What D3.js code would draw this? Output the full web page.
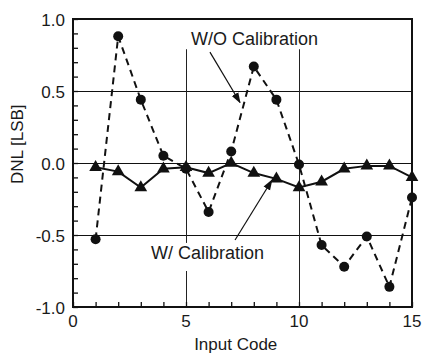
<!DOCTYPE html>
<html>
<head>
<meta charset="utf-8">
<script src="https://cdn.jsdelivr.net/npm/d3@7"></script>
<style>
  body { margin: 0; background: #fff; }
  text { font-family: "Liberation Sans", Arial, sans-serif; fill: #1a1a1a; }
</style>
</head>
<body>
<script>
// DNL vs input code, with and without calibration
var codes = [1, 2, 3, 4, 5, 6, 7, 8, 9, 10, 11, 12, 13, 14, 15];
var dnlWithout = [-0.53, 0.88, 0.44, 0.05, -0.04, -0.34, 0.08, 0.67, 0.44, -0.01, -0.57, -0.72, -0.51, -0.86, -0.24];
var dnlWith = [-0.03, -0.06, -0.17, -0.04, -0.03, -0.07, 0.0, -0.07, -0.11, -0.17, -0.13, -0.04, -0.02, -0.02, -0.1];
var xTicks = [0, 5, 10, 15];
var yTicks = [-1.0, -0.5, 0.0, 0.5, 1.0];
var xGrid = [5, 10];
var yGrid = [-0.5, 0, 0.5];

var margin = {left: 73, right: 13, top: 19, bottom: 48},
    width = 425 - margin.left - margin.right,
    height = 355 - margin.top - margin.bottom;

var svg = d3.select("body")
    .append("svg")
    .attr("width", 425)
    .attr("height", 355)
    .append("g")
    .attr("transform", "translate(" + margin.left + "," + margin.top + ")");

var x = d3.scaleLinear().domain([0, 15]).range([0, width]);
var y = d3.scaleLinear().domain([-1, 1]).range([height, 0]);

// grid lines
svg.selectAll(".hgrid")
    .data(yGrid)
    .enter().append("line")
    .attr("x1", 0).attr("x2", width)
    .attr("y1", function(d) { return Math.round(y(d)) + 0.5; })
    .attr("y2", function(d) { return Math.round(y(d)) + 0.5; })
    .attr("stroke", "#111").attr("stroke-width", 1);

svg.selectAll(".vgrid")
    .data(xGrid)
    .enter().append("line")
    .attr("x1", function(d) { return Math.round(x(d)) + 0.5; })
    .attr("x2", function(d) { return Math.round(x(d)) + 0.5; })
    .attr("y1", 0).attr("y2", height)
    .attr("stroke", "#222").attr("stroke-width", 1);

// white boxes behind the annotation labels (they cut the grid lines)
svg.append("rect")
    .attr("x", x(5) - 6).attr("y", 0)
    .attr("width", x(10) - x(5) + 30).attr("height", y(0.79) - 0)
    .attr("fill", "#fff");
svg.append("rect")
    .attr("x", x(3.4)).attr("y", y(-0.555))
    .attr("width", 120).attr("height", y(-0.75) - y(-0.555))
    .attr("fill", "#fff");

// axes with minor ticks pointing inward
var xAxis = d3.axisBottom(x).tickValues(d3.range(0, 16, 1)).tickSizeInner(-5).tickSizeOuter(0).tickFormat("");
var yAxis = d3.axisLeft(y).tickValues(d3.range(-10, 11, 1).map(function(d) { return d / 10; })).tickSizeInner(-5).tickSizeOuter(0).tickFormat("");

var gx = svg.append("g").attr("transform", "translate(0," + height + ")").call(xAxis);
var gy = svg.append("g").call(yAxis);
gx.select(".domain").remove();
gy.select(".domain").remove();
gx.selectAll("line").attr("stroke", "#111").attr("stroke-width", 1.3);
gy.selectAll("line").attr("stroke", "#111").attr("stroke-width", 1.3);

// tick labels
svg.selectAll(".xlab")
    .data(xTicks)
    .enter().append("text")
    .attr("x", function(d) { return x(d); })
    .attr("y", height + 20)
    .attr("text-anchor", "middle")
    .attr("font-size", "17px")
    .text(function(d) { return d; });

svg.selectAll(".ylab")
    .data(yTicks)
    .enter().append("text")
    .attr("x", -8)
    .attr("y", function(d) { return y(d) + 7; })
    .attr("text-anchor", "end")
    .attr("font-size", "17px")
    .text(function(d) { return d.toFixed(1); });

// frame
svg.append("rect")
    .attr("width", width).attr("height", height)
    .attr("fill", "none").attr("stroke", "#111").attr("stroke-width", 2);

// axis titles
svg.append("text")
    .attr("x", x(7.2)).attr("y", height + 43)
    .attr("text-anchor", "middle")
    .attr("font-size", "17px")
    .text("Input Code");

svg.append("text")
    .attr("transform", "translate(" + (-50) + "," + (y(0.13)) + ") rotate(-90)")
    .attr("text-anchor", "middle")
    .attr("font-size", "17px")
    .text("DNL [LSB]");

// series
var rowsWithout = codes.map(function(c, i) { return {x: c, y: dnlWithout[i]}; });
var rowsWith = codes.map(function(c, i) { return {x: c, y: dnlWith[i]}; });

var line = d3.line()
    .x(function(d) { return x(d.x); })
    .y(function(d) { return y(d.y); });

svg.append("path")
    .datum(rowsWithout)
    .attr("d", line)
    .attr("fill", "none")
    .attr("stroke", "#111")
    .attr("stroke-width", 2)
    .attr("stroke-dasharray", "7,5");

svg.append("path")
    .datum(rowsWith)
    .attr("d", line)
    .attr("fill", "none")
    .attr("stroke", "#111")
    .attr("stroke-width", 2);

svg.selectAll(".dot")
    .data(rowsWithout)
    .enter().append("circle")
    .attr("cx", function(d) { return x(d.x); })
    .attr("cy", function(d) { return y(d.y); })
    .attr("r", 5)
    .attr("fill", "#111");

var tri = d3.symbol().type(d3.symbolTriangle).size(70);
svg.selectAll(".tri")
    .data(rowsWith)
    .enter().append("path")
    .attr("d", tri)
    .attr("transform", function(d) { return "translate(" + x(d.x) + "," + y(d.y) + ")"; })
    .attr("fill", "#111");

// annotations
svg.append("defs").append("marker")
    .attr("id", "arrow")
    .attr("viewBox", "0 0 10 10")
    .attr("refX", 9).attr("refY", 5)
    .attr("markerWidth", 9).attr("markerHeight", 9)
    .attr("orient", "auto")
    .append("path")
    .attr("d", "M0,1.5 L10,5 L0,8.5 Z")
    .attr("fill", "#111");

svg.append("text")
    .attr("x", x(5.22)).attr("y", y(0.82))
    .attr("font-size", "18px")
    .text("W/O Calibration");

svg.append("line")
    .attr("x1", x(6.06)).attr("y1", y(0.77))
    .attr("x2", x(7.39)).attr("y2", y(0.42))
    .attr("stroke", "#111").attr("stroke-width", 1.2)
    .attr("marker-end", "url(#arrow)");

svg.append("text")
    .attr("x", x(3.45)).attr("y", y(-0.67))
    .attr("font-size", "18px")
    .text("W/ Calibration");

svg.append("line")
    .attr("x1", x(7.17)).attr("y1", y(-0.535))
    .attr("x2", x(8.8)).attr("y2", y(-0.12))
    .attr("stroke", "#111").attr("stroke-width", 1.2)
    .attr("marker-end", "url(#arrow)");
</script>
</body>
</html>
